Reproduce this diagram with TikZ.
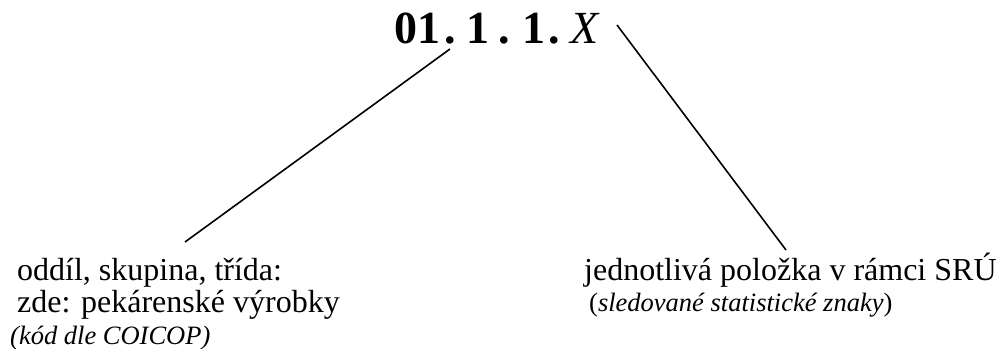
\documentclass[tikz,border=0pt]{standalone}
\usepackage{fontspec}
\setmainfont{Liberation Serif}
\usepackage{tikz}

\begin{document}
\begin{tikzpicture}[x=1pt,y=-1pt,inner sep=0pt]
\useasboundingbox (0,0) rectangle (1001,348);
\coordinate (kod) at (394,43);
\coordinate (l1) at (450,49);
\coordinate (l2) at (185,242);
\coordinate (r1) at (617,25);
\coordinate (r2) at (786,250);
\node (kodx) [anchor = base west] at (kod) {\fontsize{46}{50}\selectfont\bfseries 01\kern4pt.\kern11pt 1\kern9pt.\kern12pt 1\kern3pt.\kern11pt\mdseries\itshape X};
\draw[line width=1.6pt] (l1)--(l2);
\draw[line width=1.6pt] (r1)--(r2);
\node (oddil) [anchor = base west] at (17,280) {\fontsize{32}{38}\selectfont odd\'il, skupina, t\v{r}\'ida:};
\node (zde) [anchor = base west] at (17,312) {\fontsize{32}{38}\selectfont zde: pek\'arensk\'e v\'yrobky};
\node (coicop) [anchor = base west] at (10,344) {\fontsize{26.5}{30}\selectfont\itshape (k\'od dle COICOP)};
\node (polozka) [anchor = base west] at (584,280) {\fontsize{32}{38}\selectfont jednotliv\'a polo\v{z}ka v r\'amci SR\'U};
\node (znaky) [anchor = base west] at (589,311) {\fontsize{26.5}{30}\selectfont (\textit{sledovan\'e statistick\'e znaky})};
\end{tikzpicture}
\end{document}
